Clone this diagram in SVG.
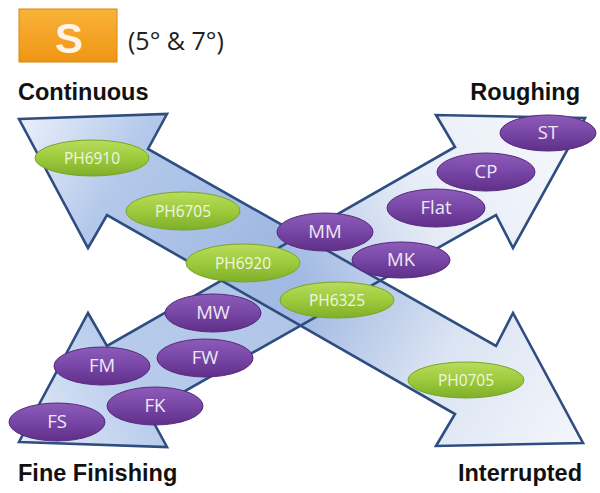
<svg xmlns="http://www.w3.org/2000/svg" width="600" height="493" viewBox="0 0 600 493">
<defs>
<linearGradient id="gA" gradientUnits="userSpaceOnUse" x1="19" y1="119" x2="583" y2="443">
<stop offset="0" stop-color="#eaf0f9"/>
<stop offset="0.18" stop-color="#b3c8ea"/>
<stop offset="0.5" stop-color="#9cb5e0"/>
<stop offset="0.75" stop-color="#dbe4f3"/>
<stop offset="1" stop-color="#f4f6fb"/>
</linearGradient>
<linearGradient id="gB" gradientUnits="userSpaceOnUse" x1="19" y1="442" x2="583" y2="118">
<stop offset="0" stop-color="#dfe8f6"/>
<stop offset="0.2" stop-color="#abc2e8"/>
<stop offset="0.5" stop-color="#a2bae3"/>
<stop offset="0.72" stop-color="#e2e9f5"/>
<stop offset="1" stop-color="#f5f7fb"/>
</linearGradient>
<linearGradient id="gGreen" x1="0" y1="0" x2="0" y2="1">
<stop offset="0" stop-color="#b9dc5c"/>
<stop offset="0.5" stop-color="#9dcb3c"/>
<stop offset="1" stop-color="#7fae2a"/>
</linearGradient>
<linearGradient id="gPurple" x1="0" y1="0" x2="0" y2="1">
<stop offset="0" stop-color="#8d5cb8"/>
<stop offset="0.5" stop-color="#7846a6"/>
<stop offset="1" stop-color="#5e2f88"/>
</linearGradient>
<linearGradient id="gOrange" x1="0" y1="0" x2="0" y2="1">
<stop offset="0" stop-color="#f9b23a"/>
<stop offset="1" stop-color="#f09614"/>
</linearGradient>
</defs>
<style>
.arrow{stroke:none}
.edge{fill:none;stroke:#2e4d80;stroke-width:2.6;stroke-linejoin:miter}
.g{fill:url(#gGreen);stroke:#79a52a;stroke-width:1}
.p{fill:url(#gPurple);stroke:#56297e;stroke-width:1}
.gt{font-family:"Open Sans","Liberation Sans",sans-serif;font-size:15.5px;fill:#f0f6e4;text-anchor:middle}
.pt{font-family:"Open Sans","Liberation Sans",sans-serif;font-size:18.5px;fill:#eee8f4;text-anchor:middle}
.lbl{font-family:"Liberation Sans",Arial,sans-serif;font-weight:bold;font-size:23.5px;fill:#111}
</style>
<g id="badge">
<rect x="19" y="9" width="98" height="53" fill="url(#gOrange)" stroke="#d9860f" stroke-width="1"/>
<text x="69" y="53" font-family="Liberation Sans,Arial,sans-serif" font-weight="bold" font-size="42" fill="#fff4e6" text-anchor="middle">S</text>
<text x="128" y="50" font-family="Open Sans,Liberation Sans,sans-serif" font-size="25" fill="#222">(5° &amp; 7°)</text>
</g>
<g id="labels">
<text class="lbl" x="18" y="100">Continuous</text>
<text class="lbl" x="580" y="100" text-anchor="end">Roughing</text>
<text class="lbl" x="18" y="481">Fine Finishing</text>
<text class="lbl" x="582" y="481" text-anchor="end">Interrupted</text>
</g>
<g id="connectors">
<polygon class="arrow" fill="url(#gA)" points="19,119 167,114 148,149 496,346 513,313 583,443 436,446 455,414 107,215 88,248"/>
<polygon class="arrow" fill="url(#gB)" fill-opacity="0.85" points="19,442 167,447 148,412 496,215 513,248 585,118 436,115 455,147 107,346 88,313"/>
<polygon class="edge" points="19,119 167,114 148,149 496,346 513,313 583,443 436,446 455,414 107,215 88,248"/>
<polygon class="edge" points="19,442 167,447 148,412 496,215 513,248 585,118 436,115 455,147 107,346 88,313"/>
</g>
<g id="PH6910"><ellipse class="g" cx="92" cy="158" rx="57" ry="18"/><text class="gt" x="92" y="164">PH6910</text></g>
<g id="PH6705"><ellipse class="g" cx="183" cy="211" rx="57" ry="19"/><text class="gt" x="183" y="217">PH6705</text></g>
<g id="PH6920"><ellipse class="g" cx="243" cy="263" rx="57" ry="19"/><text class="gt" x="243" y="269">PH6920</text></g>
<g id="PH6325"><ellipse class="g" cx="337" cy="300" rx="57" ry="18"/><text class="gt" x="337" y="306">PH6325</text></g>
<g id="PH0705"><ellipse class="g" cx="466" cy="380" rx="58" ry="18"/><text class="gt" x="466" y="386">PH0705</text></g>
<g id="MM"><ellipse class="p" cx="325" cy="232" rx="48" ry="19"/><text class="pt" x="325" y="238">MM</text></g>
<g id="MK"><ellipse class="p" cx="401" cy="260" rx="49" ry="18"/><text class="pt" x="401" y="266">MK</text></g>
<g id="Flat"><ellipse class="p" cx="436" cy="208" rx="49" ry="19"/><text class="pt" x="436" y="214">Flat</text></g>
<g id="CP"><ellipse class="p" cx="486" cy="172" rx="49" ry="19"/><text class="pt" x="486" y="178">CP</text></g>
<g id="ST"><ellipse class="p" cx="548" cy="133" rx="48" ry="18"/><text class="pt" x="548" y="139">ST</text></g>
<g id="MW"><ellipse class="p" cx="213" cy="313" rx="48" ry="19"/><text class="pt" x="213" y="319">MW</text></g>
<g id="FW"><ellipse class="p" cx="205" cy="358" rx="48" ry="19"/><text class="pt" x="205" y="364">FW</text></g>
<g id="FM"><ellipse class="p" cx="102" cy="366" rx="48" ry="19"/><text class="pt" x="102" y="372">FM</text></g>
<g id="FK"><ellipse class="p" cx="155" cy="406" rx="48" ry="19"/><text class="pt" x="155" y="412">FK</text></g>
<g id="FS"><ellipse class="p" cx="57" cy="422" rx="48" ry="19"/><text class="pt" x="57" y="428">FS</text></g>
</svg>
